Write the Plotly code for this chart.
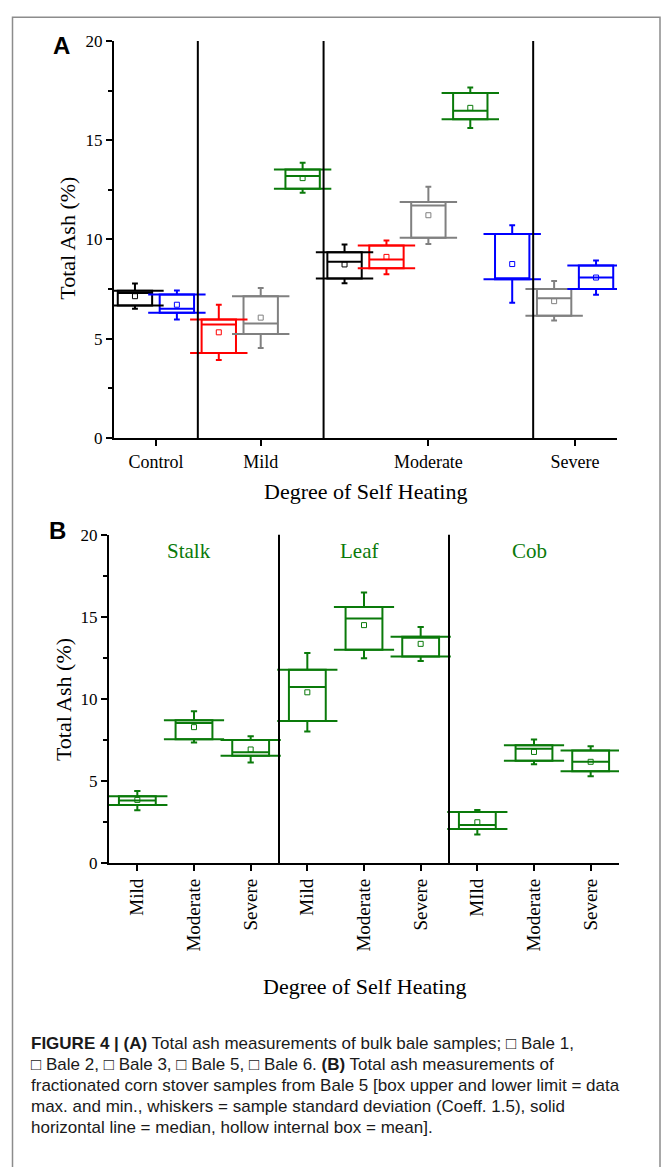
import plotly.graph_objects as go

# ---------------- Panel A data (bulk bale samples) ----------------
a_groups = ["Control", "Control", "Mild", "Mild", "Mild",
            "Moderate", "Moderate", "Moderate", "Moderate", "Moderate",
            "Severe", "Severe"]
a_bales = ["Bale 1", "Bale 6", "Bale 2", "Bale 3", "Bale 5",
           "Bale 1", "Bale 2", "Bale 3", "Bale 5", "Bale 6",
           "Bale 3", "Bale 6"]
a_max = [7.42, 7.22, 5.97, 7.14, 13.52, 9.35, 9.69, 11.88, 17.38, 10.27, 7.50, 8.69]
a_min = [6.67, 6.31, 4.28, 5.24, 12.55, 8.03, 8.55, 10.09, 16.05, 7.99, 6.15, 7.50]
a_median = [7.30, 6.51, 5.72, 5.77, 13.20, 8.87, 8.99, 11.71, 16.48, 8.03, 7.04, 8.08]
a_mean = [7.14, 6.71, 5.32, 6.06, 13.09, 8.74, 9.12, 11.22, 16.63, 8.76, 6.89, 8.08]
a_whisk_hi = [7.78, 7.43, 6.71, 7.55, 13.87, 9.75, 9.95, 12.66, 17.65, 10.72, 7.90, 8.94]
a_whisk_lo = [6.51, 5.97, 3.92, 4.53, 12.35, 7.79, 8.24, 9.77, 15.61, 6.81, 5.91, 7.21]

# ---------------- Panel B data (fractionated, Bale 5) ----------------
b_parts = ["Stalk", "Stalk", "Stalk", "Leaf", "Leaf", "Leaf", "Cob", "Cob", "Cob"]
b_degree = ["Mild", "Moderate", "Severe", "Mild", "Moderate", "Severe",
            "MIld", "Moderate", "Severe"]
b_max = [4.07, 8.70, 7.50, 11.77, 15.60, 13.78, 3.11, 7.18, 6.86]
b_min = [3.54, 7.55, 6.54, 8.66, 12.99, 12.58, 2.08, 6.24, 5.59]
b_median = [3.82, 8.53, 6.75, 10.72, 14.90, 13.72, 2.32, 6.97, 6.17]
b_mean = [3.85, 8.28, 6.92, 10.40, 14.49, 13.35, 2.49, 6.77, 6.17]
b_whisk_hi = [4.39, 9.24, 7.72, 12.80, 16.48, 14.38, 3.24, 7.52, 7.12]
b_whisk_lo = [3.22, 7.35, 6.13, 8.02, 12.48, 12.30, 1.74, 6.02, 5.29]

bale_colors = {"Bale 1": "#000000", "Bale 2": "#ff0000", "Bale 3": "#808080",
               "Bale 5": "#0a7a0a", "Bale 6": "#0000ff"}
green = "#0a7a0a"

caption_lines = [
    "<b>FIGURE 4 | (A)</b> Total ash measurements of bulk bale samples; \u25a1 Bale 1,",
    "\u25a1 Bale 2, \u25a1 Bale 3, \u25a1 Bale 5, \u25a1 Bale 6. <b>(B)</b> Total ash measurements of",
    "fractionated corn stover samples from Bale 5 [box upper and lower limit = data",
    "max. and min., whiskers = sample standard deviation (Coeff. 1.5), solid",
    "horizontal line = median, hollow internal box = mean].",
]

W, H = 663, 1167
SERIF = "Liberation Serif, Times New Roman, serif"
SANS = "Liberation Sans, Arial, sans-serif"

fig = go.Figure()


def add_boxes(positions, colors, qmax, qmin, med, mean, whi, wlo, xa, ya, width, cap_px):
    for p, c, hi, lo, md, mn, wh, wl in zip(positions, colors, qmax, qmin, med, mean, whi, wlo):
        fig.add_trace(go.Box(
            x=[p], q1=[lo], q3=[hi], median=[md], lowerfence=[wl], upperfence=[wh],
            width=width, whiskerwidth=0.17, line=dict(color=c, width=2),
            fillcolor="rgba(0,0,0,0)", boxpoints=False, showlegend=False,
            xaxis=xa, yaxis=ya, hoverinfo="skip"))
        # extended caps on box limits
        fig.add_trace(go.Scatter(
            x=[p, p], y=[lo, hi], mode="markers",
            marker=dict(symbol="line-ew", size=cap_px, color=c,
                        line=dict(color=c, width=2)),
            showlegend=False, xaxis=xa, yaxis=ya, hoverinfo="skip"))
        # hollow mean square
        fig.add_trace(go.Scatter(
            x=[p], y=[mn], mode="markers",
            marker=dict(symbol="square-open", size=5, color=c,
                        line=dict(color=c, width=1)),
            showlegend=False, xaxis=xa, yaxis=ya, hoverinfo="skip"))


def group_layout(groups):
    pos = list(range(1, len(groups) + 1))
    names, centers, seps = [], [], []
    for i, g in enumerate(groups):
        if not names or names[-1] != g:
            if names:
                seps.append(pos[i] - 0.5)
            names.append(g)
            centers.append([])
        centers[-1].append(pos[i])
    centers = [sum(c) / len(c) for c in centers]
    return pos, names, centers, seps


# Panel A
a_pos, a_names, a_centers, a_seps = group_layout(a_groups)
add_boxes(a_pos, [bale_colors[b] for b in a_bales], a_max, a_min, a_median, a_mean,
          a_whisk_hi, a_whisk_lo, "x", "y", 0.82, 41)

# Panel B
b_pos, b_names, b_centers, b_seps = group_layout(b_parts)
add_boxes(b_pos, [green] * len(b_pos), b_max, b_min, b_median, b_mean,
          b_whisk_hi, b_whisk_lo, "x2", "y2", 0.65, 43)

shapes = []
for s in a_seps:
    shapes.append(dict(type="line", xref="x", yref="y", x0=s, x1=s, y0=0, y1=20,
                       line=dict(color="black", width=2)))
for s in b_seps:
    shapes.append(dict(type="line", xref="x2", yref="y2", x0=s, x1=s, y0=0, y1=20,
                       line=dict(color="black", width=2)))
# figure frame
shapes.append(dict(type="rect", xref="paper", yref="paper",
                   x0=12.5 / W, x1=660 / W, y0=-0.02, y1=1 - 8.3 / H,
                   line=dict(color="#8c8c8c", width=1.5), fillcolor="rgba(0,0,0,0)"))


def px(xp):
    return xp / W


def py(yp):
    return 1 - yp / H


axis_common = dict(showgrid=False, zeroline=False, showline=True, linecolor="black",
                   linewidth=2, ticks="outside", tickcolor="black", tickwidth=2,
                   ticklen=6, mirror=False)

yaxis_common = dict(axis_common, range=[0, 20], tick0=0, dtick=5,
                    tickfont=dict(family=SERIF, size=17, color="black"),
                    minor=dict(dtick=2.5, ticks="outside", ticklen=4, tickwidth=2,
                               tickcolor="black", showgrid=False))


def note(text, x, y, size, family=SERIF, color="black", angle=0):
    return dict(text=text, x=px(x), y=py(y), xref="paper", yref="paper",
                xanchor="center", yanchor="middle", textangle=angle,
                showarrow=False, font=dict(family=family, size=size, color=color))


annotations = [
    note("<b>A</b>", 61, 37, 24, SANS),
    note("<b>B</b>", 58, 530, 24, SANS),
    note("Total Ash (%)", 67.5, 233, 22, angle=-90),
    note("Total Ash (%)", 63.5, 702, 22, angle=-90),
    note("Degree of Self Heating", 365, 490, 22),
    note("Degree of Self Heating", 364, 994, 22),
]
for name, c in zip(b_names, b_centers):
    annotations.append(dict(text=name, x=c, y=19.0, xref="x2", yref="y2", xshift=-5,
                            xanchor="center", yanchor="middle", showarrow=False,
                            font=dict(family=SERIF, size=21, color=green)))

cap_y = [1051.7, 1073, 1094.5, 1115.5, 1137]
for line, yy in zip(caption_lines, cap_y):
    annotations.append(dict(text=line, x=px(29), y=py(yy), xref="paper", yref="paper",
                            xanchor="left", yanchor="middle", showarrow=False,
                            font=dict(family=SANS, size=17, color="#1a1a1a")))

fig.update_layout(
    width=W, height=H, margin=dict(l=0, r=0, t=0, b=0),
    paper_bgcolor="white", plot_bgcolor="white", boxmode="overlay",
    xaxis=dict(axis_common, domain=[px(114), px(617)], range=[0.5, len(a_pos) + 0.5],
               tickvals=a_centers, ticktext=a_names, anchor="y",
               tickfont=dict(family=SERIF, size=18, color="black")),
    yaxis=dict(yaxis_common, domain=[py(436), py(32.5)], anchor="x"),
    xaxis2=dict(axis_common, domain=[px(109), px(619)], range=[0.5, len(b_pos) + 0.5],
                tickvals=b_pos, ticktext=b_degree, tickangle=-90, anchor="y2",
                tickfont=dict(family=SERIF, size=19, color="black")),
    yaxis2=dict(yaxis_common, domain=[py(868.3), py(534.3)], anchor="x2"),
    shapes=shapes, annotations=annotations,
)

fig.write_html("out.html")
